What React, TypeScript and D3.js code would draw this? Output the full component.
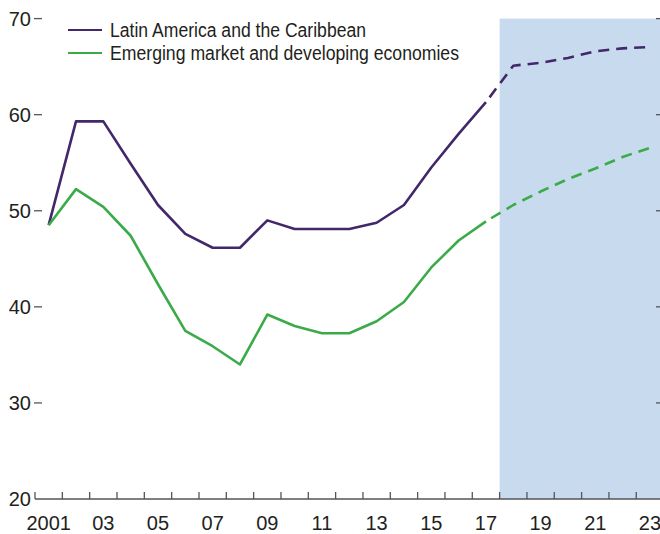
import React from "react";
import * as d3 from "d3";

const years = d3.range(2001, 2024);
const latam = [48.5, 59.3, 59.3, 54.9, 50.6, 47.6, 46.15, 46.15, 49.0, 48.1, 48.1, 48.1, 48.75, 50.6, 54.5, 58.0, 61.3, 65.1, 65.4, 65.9, 66.6, 66.9, 67.05];
const emde = [48.5, 52.25, 50.4, 47.4, 42.35, 37.5, 35.9, 34.0, 39.2, 38.0, 37.25, 37.25, 38.5, 40.5, 44.1, 46.9, 48.9, 50.6, 52.0, 53.3, 54.4, 55.6, 56.55];
const lastActual = 2017;
const yTicks = [20, 30, 40, 50, 60, 70];
const xLabelYears = years.filter((y) => y % 2 === 1);
const seriesNames = ["Latin America and the Caribbean", "Emerging market and developing economies"];
const legendWidths = [256, 349];
const colors = ["#42286a", "#3bab49"];

const W = 660;
const H = 534;
const FONT = "'Liberation Sans Narrow', 'Arial Narrow', 'Liberation Sans', Arial, sans-serif";

export default function App() {
  const x = d3.scaleLinear().domain([2000.5, 2023.5]).range([35, 663.6]);
  const y = d3.scaleLinear().domain([20, 70]).range([499, 18.6]);
  const line = d3
    .line<[number, number]>()
    .x((d) => x(d[0]))
    .y((d) => y(d[1]));

  const series = [latam, emde];
  const boundaries = d3.range(2000.5, 2024, 1);

  return (
    <svg
      width={W}
      height={H}
      style={{ position: "absolute", left: 0, top: 0, background: "#fff" }}
      fontFamily={FONT}
    >
      <rect x={x(2017.5)} y={y(70)} width={x(2023.5) - x(2017.5)} height={y(20) - y(70)} fill="#c8daee" />

      {/* y ticks left and right */}
      {yTicks.filter((t) => t > 20).map((t) => (
        <g key={t}>
          <line x1={34} x2={42} y1={y(t)} y2={y(t)} stroke="#555" strokeWidth={1.3} />
          <line x1={656} x2={664} y1={y(t)} y2={y(t)} stroke="#555" strokeWidth={1.3} />
        </g>
      ))}
      {yTicks.map((t) => (
        <text key={t} x={31} y={y(t)} dy="0.36em" textAnchor="end" fontSize={20} fill="#231f20">
          {t}
        </text>
      ))}

      {/* x axis */}
      <line x1={x(2000.5)} x2={x(2023.5)} y1={y(20)} y2={y(20)} stroke="#555" strokeWidth={1.5} />
      {boundaries.map((b) => (
        <line key={b} x1={x(b)} x2={x(b)} y1={y(20)} y2={y(20) - 7} stroke="#555" strokeWidth={1.3} />
      ))}
      {xLabelYears.map((yr) => (
        <text key={yr} x={x(yr)} y={530} textAnchor="middle" fontSize={20} fill="#231f20">
          {yr === 2001 ? "2001" : String(yr % 100).padStart(2, "0")}
        </text>
      ))}

      {/* lines */}
      {series.map((s, i) => {
        const pts: [number, number][] = years.map((yr, j) => [yr, s[j]]);
        const actual = pts.filter((p) => p[0] <= lastActual);
        const proj = pts.filter((p) => p[0] >= lastActual);
        return (
          <g key={i}>
            <path d={line(actual) || ""} fill="none" stroke={colors[i]} strokeWidth={2.6} strokeLinejoin="round" />
            <path
              d={line(proj) || ""}
              fill="none"
              stroke={colors[i]}
              strokeWidth={2.6}
              strokeDasharray="11 7"
              strokeDashoffset={-6}
              strokeLinejoin="round"
            />
          </g>
        );
      })}

      {/* legend */}
      {seriesNames.map((n, i) => (
        <g key={n} transform={`translate(0, ${30 + i * 23})`}>
          <line x1={68} x2={102} y1={0} y2={0} stroke={colors[i]} strokeWidth={2.2} />
          <text
            x={110}
            y={0}
            dy="0.36em"
            fontSize={20}
            fill="#231f20"
            textLength={legendWidths[i]}
            lengthAdjust="spacingAndGlyphs"
          >
            {n}
          </text>
        </g>
      ))}
    </svg>
  );
}
